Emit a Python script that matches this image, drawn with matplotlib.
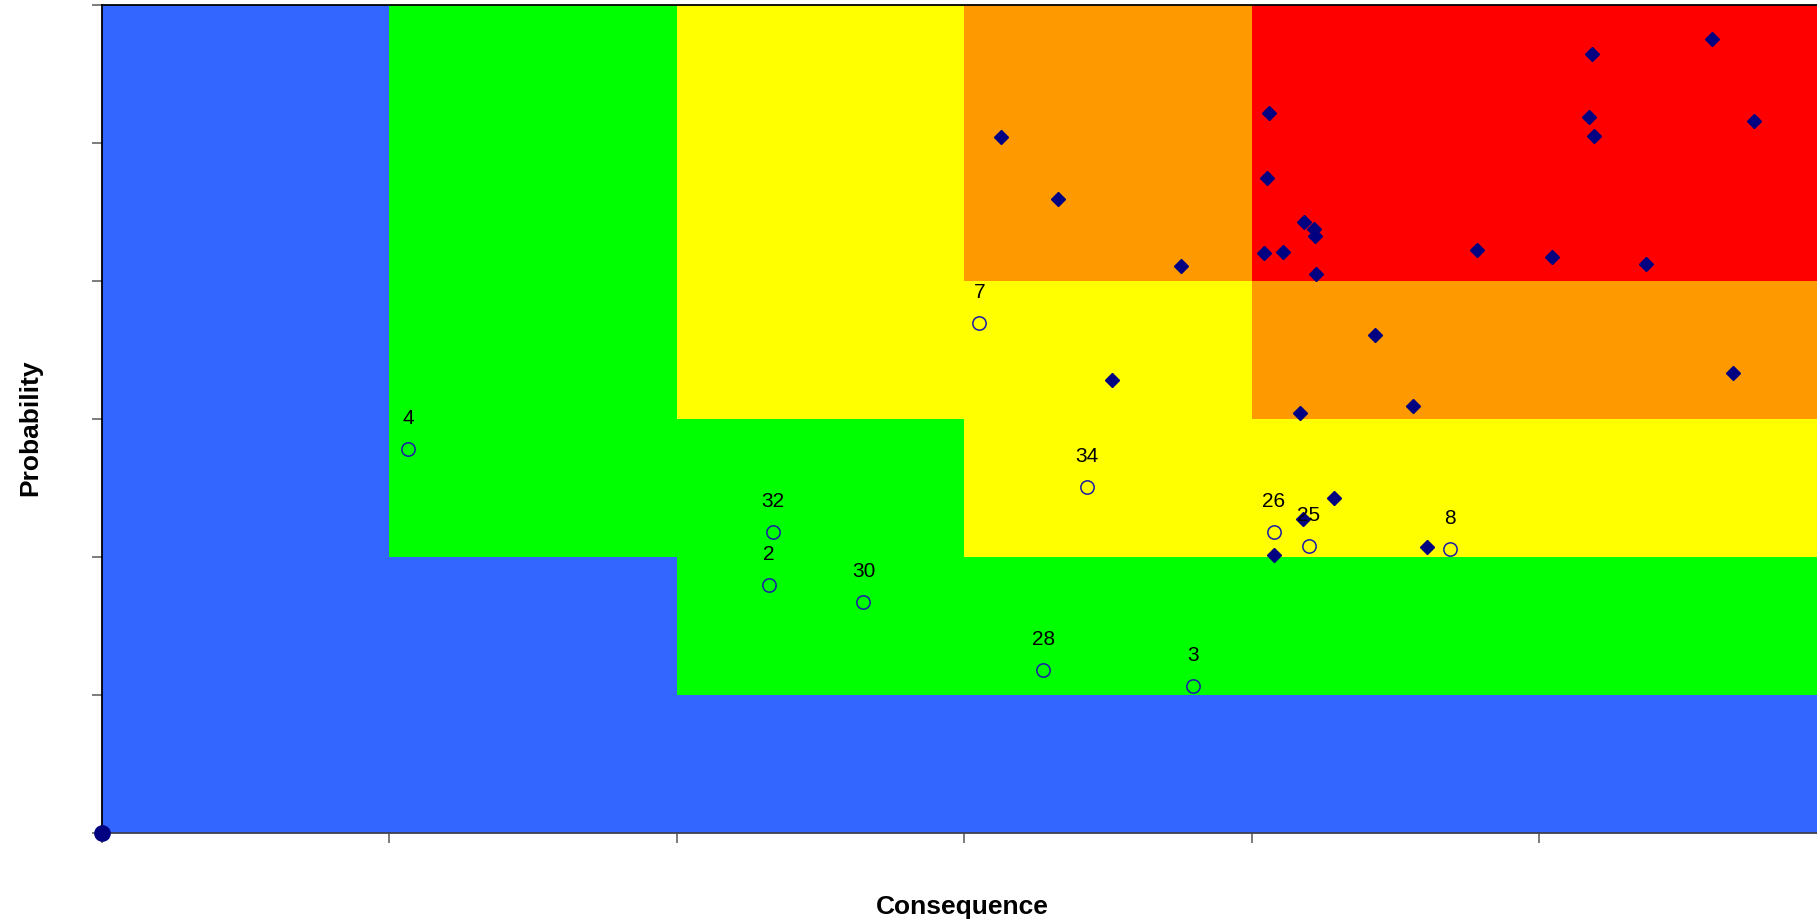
import matplotlib
matplotlib.use("Agg")
import matplotlib.pyplot as plt
from matplotlib.colors import ListedColormap
import numpy as np

# ---- data ----
zone_colors = ["#3366FF", "#00FF00", "#FFFF00", "#FF9900", "#FF0000"]
# zone level per cell: rows = probability band (bottom->top), cols = consequence band
zone_grid = [
    [0, 0, 0, 0, 0, 0],
    [0, 0, 1, 1, 1, 1],
    [0, 1, 1, 2, 2, 2],
    [0, 1, 2, 2, 3, 3],
    [0, 1, 2, 3, 4, 4],
    [0, 1, 2, 3, 4, 4],
]

risk_x = [3.127, 3.327, 3.754, 3.513, 4.059, 4.054, 4.183, 4.216, 4.219, 4.043,
          4.108, 4.224, 4.427, 4.166, 4.561, 4.287, 4.178, 4.077, 4.610, 4.784,
          5.043, 5.371, 5.184, 5.599, 5.174, 5.190, 5.748, 5.674]
risk_y = [5.041, 4.597, 4.106, 3.285, 5.217, 4.744, 4.425, 4.374, 4.324, 4.200,
          4.212, 4.051, 3.609, 3.043, 3.094, 2.428, 2.275, 2.017, 2.075, 4.222,
          4.174, 4.126, 5.645, 5.751, 5.188, 5.051, 5.162, 3.331]

open_labels = ["4", "32", "2", "30", "28", "3", "34", "7", "26", "25", "8"]
open_x = [1.065, 2.334, 2.320, 2.649, 3.275, 3.796, 3.426, 3.052, 4.077, 4.199, 4.690]
open_y = [2.783, 2.181, 1.795, 1.672, 1.181, 1.063, 2.509, 3.696, 2.179, 2.077, 2.058]

origin_x = [0]
origin_y = [0]

x_ticks = [0, 1, 2, 3, 4, 5]
y_ticks = [0, 1, 2, 3, 4, 5, 6]

# ---- figure ----
fig = plt.figure(figsize=(18.17, 9.23), dpi=100)
ax = fig.add_axes([102 / 1817, 1 - 833 / 923, 1 - 102 / 1817, (833 - 5) / 923])

grid = np.array(zone_grid)
edges = np.arange(0, 7)
ax.pcolormesh(edges, edges, grid, cmap=ListedColormap(zone_colors),
              vmin=-0.5, vmax=4.5, shading="flat", zorder=0)

ax.plot(risk_x, risk_y, linestyle="none", marker="D", markersize=6.8,
        color="#000080", zorder=3)
ax.plot(open_x, open_y, linestyle="none", marker="o", markersize=9.6,
        markerfacecolor="none", markeredgecolor="#1a1aa8", markeredgewidth=1.1,
        zorder=3)
for lab, x, y in zip(open_labels, open_x, open_y):
    ax.annotate(lab, (x, y), xytext=(0, 22), textcoords="offset points",
                ha="center", va="center", fontsize=15,
                family=["Liberation Sans", "DejaVu Sans"],
                color="black", zorder=4)
ax.plot(origin_x, origin_y, linestyle="none", marker="o", markersize=11,
        color="#000080", clip_on=False, zorder=5)

ax.set_xlim(0, 5.966)
ax.set_ylim(0, 6)
ax.set_xticks(x_ticks)
ax.set_yticks(y_ticks)
ax.set_xticklabels([])
ax.set_yticklabels([])
ax.tick_params(axis="both", direction="out", length=7, width=1.2, color="#666666")

for s in ["left", "top"]:
    ax.spines[s].set_color("black")
    ax.spines[s].set_linewidth(1.3)
ax.spines["bottom"].set_color("#404050")
ax.spines["bottom"].set_linewidth(1.3)
ax.spines["right"].set_visible(False)

lab_font = dict(fontsize=19, fontweight="bold",
                family=["Liberation Sans", "DejaVu Sans"])
fig.text(962 / 1817, 1 - 907 / 923, "Consequence", ha="center", va="center", **lab_font)
fig.text(30 / 1817, 1 - 428 / 923, "Probability", ha="center", va="center",
         rotation=90, **lab_font)

fig.savefig("out.png", dpi=100)
